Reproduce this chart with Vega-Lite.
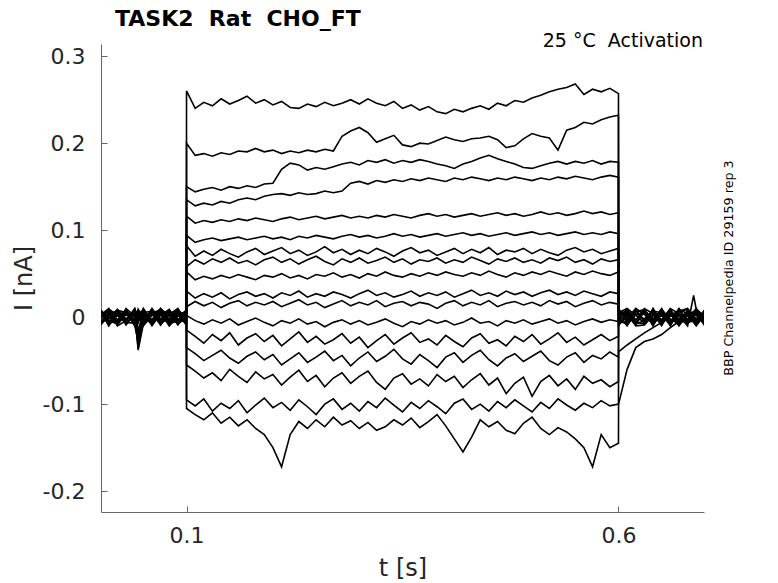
{
"$schema":"https://vega.github.io/schema/vega-lite/v6.json",
"width":603,"height":468,
"autosize":"none",
"padding":{"left":101,"top":44,"right":74,"bottom":71},
"background":"white",
"config":{"view":{"stroke":null},"font":"DejaVu Sans"},
"title":{"text":"TASK2\u00a0\u00a0Rat\u00a0\u00a0CHO_FT","anchor":"start","frame":"group","dx":14,"offset":1,"fontSize":22,"fontWeight":"bold","color":"black","font":"DejaVu Sans"},
"layer":[
{"data":{"values":[
{"s":1,"t":0,"I":0.004},{"s":1,"t":0.01,"I":-0.006},{"s":1,"t":0.02,"I":0.008},{"s":1,"t":0.03,"I":-0.002},{"s":1,"t":0.04,"I":0.006},{"s":1,"t":0.044,"I":-0.004},{"s":1,"t":0.05,"I":0.01},{"s":1,"t":0.06,"I":-0.005},{"s":1,"t":0.07,"I":0.003},{"s":1,"t":0.08,"I":-0.008},{"s":1,"t":0.09,"I":0.007},{"s":1,"t":0.0999,"I":0.002},
{"s":1,"t":0.1,"I":0.26},{"s":1,"t":0.11,"I":0.24},{"s":1,"t":0.12,"I":0.247},{"s":1,"t":0.13,"I":0.243},{"s":1,"t":0.14,"I":0.251},{"s":1,"t":0.15,"I":0.245},{"s":1,"t":0.16,"I":0.249},{"s":1,"t":0.17,"I":0.254},{"s":1,"t":0.18,"I":0.246},{"s":1,"t":0.19,"I":0.25},
{"s":1,"t":0.2,"I":0.244},{"s":1,"t":0.21,"I":0.248},{"s":1,"t":0.22,"I":0.241},{"s":1,"t":0.23,"I":0.24},{"s":1,"t":0.24,"I":0.245},{"s":1,"t":0.25,"I":0.242},{"s":1,"t":0.26,"I":0.247},{"s":1,"t":0.27,"I":0.243},{"s":1,"t":0.28,"I":0.246},{"s":1,"t":0.29,"I":0.25},
{"s":1,"t":0.3,"I":0.245},{"s":1,"t":0.31,"I":0.251},{"s":1,"t":0.32,"I":0.246},{"s":1,"t":0.33,"I":0.243},{"s":1,"t":0.34,"I":0.248},{"s":1,"t":0.35,"I":0.24},{"s":1,"t":0.36,"I":0.244},{"s":1,"t":0.37,"I":0.238},{"s":1,"t":0.38,"I":0.242},{"s":1,"t":0.39,"I":0.236},
{"s":1,"t":0.4,"I":0.234},{"s":1,"t":0.41,"I":0.239},{"s":1,"t":0.42,"I":0.236},{"s":1,"t":0.43,"I":0.24},{"s":1,"t":0.44,"I":0.243},{"s":1,"t":0.45,"I":0.239},{"s":1,"t":0.46,"I":0.246},{"s":1,"t":0.47,"I":0.243},{"s":1,"t":0.48,"I":0.249},{"s":1,"t":0.49,"I":0.247},
{"s":1,"t":0.5,"I":0.252},{"s":1,"t":0.51,"I":0.255},{"s":1,"t":0.52,"I":0.259},{"s":1,"t":0.53,"I":0.262},{"s":1,"t":0.54,"I":0.264},{"s":1,"t":0.55,"I":0.268},{"s":1,"t":0.56,"I":0.256},{"s":1,"t":0.57,"I":0.262},{"s":1,"t":0.58,"I":0.259},{"s":1,"t":0.59,"I":0.263},{"s":1,"t":0.6,"I":0.257},
{"s":1,"t":0.6001,"I":0.006},{"s":1,"t":0.61,"I":-0.004},{"s":1,"t":0.62,"I":0.008},{"s":1,"t":0.63,"I":-0.006},{"s":1,"t":0.64,"I":0.003},{"s":1,"t":0.65,"I":-0.008},{"s":1,"t":0.66,"I":0.007},{"s":1,"t":0.67,"I":-0.002},{"s":1,"t":0.68,"I":0.005},{"s":1,"t":0.69,"I":-0.007},{"s":1,"t":0.7,"I":0.004},

{"s":2,"t":0,"I":-0.007},{"s":2,"t":0.01,"I":0.005},{"s":2,"t":0.02,"I":-0.003},{"s":2,"t":0.03,"I":0.009},{"s":2,"t":0.04,"I":-0.006},{"s":2,"t":0.044,"I":0.002},{"s":2,"t":0.05,"I":-0.009},{"s":2,"t":0.06,"I":0.006},{"s":2,"t":0.07,"I":-0.002},{"s":2,"t":0.08,"I":0.008},{"s":2,"t":0.09,"I":-0.004},{"s":2,"t":0.0999,"I":0.005},
{"s":2,"t":0.1,"I":0.2},{"s":2,"t":0.11,"I":0.186},{"s":2,"t":0.12,"I":0.188},{"s":2,"t":0.13,"I":0.185},{"s":2,"t":0.14,"I":0.189},{"s":2,"t":0.15,"I":0.187},{"s":2,"t":0.16,"I":0.191},{"s":2,"t":0.17,"I":0.19},{"s":2,"t":0.18,"I":0.194},{"s":2,"t":0.19,"I":0.19},
{"s":2,"t":0.2,"I":0.192},{"s":2,"t":0.21,"I":0.188},{"s":2,"t":0.22,"I":0.191},{"s":2,"t":0.23,"I":0.189},{"s":2,"t":0.24,"I":0.192},{"s":2,"t":0.25,"I":0.19},{"s":2,"t":0.26,"I":0.193},{"s":2,"t":0.27,"I":0.191},{"s":2,"t":0.28,"I":0.208},{"s":2,"t":0.29,"I":0.214},
{"s":2,"t":0.3,"I":0.218},{"s":2,"t":0.31,"I":0.212},{"s":2,"t":0.32,"I":0.201},{"s":2,"t":0.33,"I":0.205},{"s":2,"t":0.34,"I":0.209},{"s":2,"t":0.35,"I":0.198},{"s":2,"t":0.36,"I":0.196},{"s":2,"t":0.37,"I":0.2},{"s":2,"t":0.38,"I":0.199},{"s":2,"t":0.39,"I":0.203},
{"s":2,"t":0.4,"I":0.207},{"s":2,"t":0.41,"I":0.204},{"s":2,"t":0.42,"I":0.202},{"s":2,"t":0.43,"I":0.205},{"s":2,"t":0.44,"I":0.206},{"s":2,"t":0.45,"I":0.208},{"s":2,"t":0.46,"I":0.204},{"s":2,"t":0.47,"I":0.195},{"s":2,"t":0.48,"I":0.197},{"s":2,"t":0.49,"I":0.205},
{"s":2,"t":0.5,"I":0.211},{"s":2,"t":0.51,"I":0.208},{"s":2,"t":0.52,"I":0.206},{"s":2,"t":0.53,"I":0.192},{"s":2,"t":0.54,"I":0.215},{"s":2,"t":0.55,"I":0.218},{"s":2,"t":0.56,"I":0.224},{"s":2,"t":0.57,"I":0.222},{"s":2,"t":0.58,"I":0.227},{"s":2,"t":0.59,"I":0.23},{"s":2,"t":0.6,"I":0.232},
{"s":2,"t":0.6001,"I":-0.005},{"s":2,"t":0.61,"I":0.009},{"s":2,"t":0.62,"I":-0.003},{"s":2,"t":0.63,"I":0.005},{"s":2,"t":0.64,"I":-0.009},{"s":2,"t":0.65,"I":0.004},{"s":2,"t":0.66,"I":-0.006},{"s":2,"t":0.67,"I":0.01},{"s":2,"t":0.68,"I":-0.004},{"s":2,"t":0.69,"I":0.006},{"s":2,"t":0.7,"I":-0.002},

{"s":3,"t":0,"I":0.009},{"s":3,"t":0.01,"I":-0.002},{"s":3,"t":0.02,"I":0.005},{"s":3,"t":0.03,"I":-0.008},{"s":3,"t":0.04,"I":0.003},{"s":3,"t":0.044,"I":-0.02},{"s":3,"t":0.05,"I":0.006},{"s":3,"t":0.06,"I":-0.003},{"s":3,"t":0.07,"I":0.01},{"s":3,"t":0.08,"I":-0.006},{"s":3,"t":0.09,"I":0.004},{"s":3,"t":0.0999,"I":-0.007},
{"s":3,"t":0.1,"I":0.15},{"s":3,"t":0.11,"I":0.144},{"s":3,"t":0.12,"I":0.147},{"s":3,"t":0.13,"I":0.149},{"s":3,"t":0.14,"I":0.146},{"s":3,"t":0.15,"I":0.15},{"s":3,"t":0.16,"I":0.148},{"s":3,"t":0.17,"I":0.151},{"s":3,"t":0.18,"I":0.149},{"s":3,"t":0.19,"I":0.153},
{"s":3,"t":0.2,"I":0.154},{"s":3,"t":0.21,"I":0.17},{"s":3,"t":0.22,"I":0.177},{"s":3,"t":0.23,"I":0.175},{"s":3,"t":0.24,"I":0.169},{"s":3,"t":0.25,"I":0.172},{"s":3,"t":0.26,"I":0.17},{"s":3,"t":0.27,"I":0.173},{"s":3,"t":0.28,"I":0.176},{"s":3,"t":0.29,"I":0.178},
{"s":3,"t":0.3,"I":0.175},{"s":3,"t":0.31,"I":0.18},{"s":3,"t":0.32,"I":0.178},{"s":3,"t":0.33,"I":0.181},{"s":3,"t":0.34,"I":0.177},{"s":3,"t":0.35,"I":0.18},{"s":3,"t":0.36,"I":0.178},{"s":3,"t":0.37,"I":0.181},{"s":3,"t":0.38,"I":0.179},{"s":3,"t":0.39,"I":0.176},
{"s":3,"t":0.4,"I":0.174},{"s":3,"t":0.41,"I":0.171},{"s":3,"t":0.42,"I":0.176},{"s":3,"t":0.43,"I":0.179},{"s":3,"t":0.44,"I":0.183},{"s":3,"t":0.45,"I":0.186},{"s":3,"t":0.46,"I":0.182},{"s":3,"t":0.47,"I":0.179},{"s":3,"t":0.48,"I":0.176},{"s":3,"t":0.49,"I":0.172},
{"s":3,"t":0.5,"I":0.171},{"s":3,"t":0.51,"I":0.174},{"s":3,"t":0.52,"I":0.177},{"s":3,"t":0.53,"I":0.179},{"s":3,"t":0.54,"I":0.176},{"s":3,"t":0.55,"I":0.179},{"s":3,"t":0.56,"I":0.177},{"s":3,"t":0.57,"I":0.18},{"s":3,"t":0.58,"I":0.176},{"s":3,"t":0.59,"I":0.179},{"s":3,"t":0.6,"I":0.178},
{"s":3,"t":0.6001,"I":0.01},{"s":3,"t":0.61,"I":-0.007},{"s":3,"t":0.62,"I":0.004},{"s":3,"t":0.63,"I":-0.002},{"s":3,"t":0.64,"I":0.008},{"s":3,"t":0.65,"I":-0.005},{"s":3,"t":0.66,"I":0.009},{"s":3,"t":0.67,"I":-0.007},{"s":3,"t":0.68,"I":0.002},{"s":3,"t":0.69,"I":-0.009},{"s":3,"t":0.7,"I":0.007},

{"s":4,"t":0,"I":-0.003},{"s":4,"t":0.01,"I":0.008},{"s":4,"t":0.02,"I":-0.009},{"s":4,"t":0.03,"I":0.004},{"s":4,"t":0.04,"I":-0.005},{"s":4,"t":0.044,"I":-0.03},{"s":4,"t":0.05,"I":-0.007},{"s":4,"t":0.06,"I":0.009},{"s":4,"t":0.07,"I":-0.004},{"s":4,"t":0.08,"I":0.005},{"s":4,"t":0.09,"I":-0.009},{"s":4,"t":0.0999,"I":0.003},
{"s":4,"t":0.1,"I":0.135},{"s":4,"t":0.11,"I":0.128},{"s":4,"t":0.12,"I":0.131},{"s":4,"t":0.13,"I":0.129},{"s":4,"t":0.14,"I":0.133},{"s":4,"t":0.15,"I":0.131},{"s":4,"t":0.16,"I":0.135},{"s":4,"t":0.17,"I":0.137},{"s":4,"t":0.18,"I":0.135},{"s":4,"t":0.19,"I":0.139},
{"s":4,"t":0.2,"I":0.141},{"s":4,"t":0.21,"I":0.142},{"s":4,"t":0.22,"I":0.14},{"s":4,"t":0.23,"I":0.143},{"s":4,"t":0.24,"I":0.141},{"s":4,"t":0.25,"I":0.142},{"s":4,"t":0.26,"I":0.145},{"s":4,"t":0.27,"I":0.143},{"s":4,"t":0.28,"I":0.145},{"s":4,"t":0.29,"I":0.154},
{"s":4,"t":0.3,"I":0.156},{"s":4,"t":0.31,"I":0.153},{"s":4,"t":0.32,"I":0.157},{"s":4,"t":0.33,"I":0.155},{"s":4,"t":0.34,"I":0.158},{"s":4,"t":0.35,"I":0.156},{"s":4,"t":0.36,"I":0.159},{"s":4,"t":0.37,"I":0.157},{"s":4,"t":0.38,"I":0.16},{"s":4,"t":0.39,"I":0.158},
{"s":4,"t":0.4,"I":0.156},{"s":4,"t":0.41,"I":0.16},{"s":4,"t":0.42,"I":0.158},{"s":4,"t":0.43,"I":0.161},{"s":4,"t":0.44,"I":0.159},{"s":4,"t":0.45,"I":0.157},{"s":4,"t":0.46,"I":0.16},{"s":4,"t":0.47,"I":0.158},{"s":4,"t":0.48,"I":0.161},{"s":4,"t":0.49,"I":0.159},
{"s":4,"t":0.5,"I":0.157},{"s":4,"t":0.51,"I":0.16},{"s":4,"t":0.52,"I":0.158},{"s":4,"t":0.53,"I":0.161},{"s":4,"t":0.54,"I":0.159},{"s":4,"t":0.55,"I":0.162},{"s":4,"t":0.56,"I":0.16},{"s":4,"t":0.57,"I":0.158},{"s":4,"t":0.58,"I":0.161},{"s":4,"t":0.59,"I":0.163},{"s":4,"t":0.6,"I":0.161},
{"s":4,"t":0.6001,"I":-0.008},{"s":4,"t":0.61,"I":0.003},{"s":4,"t":0.62,"I":-0.009},{"s":4,"t":0.63,"I":0.007},{"s":4,"t":0.64,"I":-0.003},{"s":4,"t":0.65,"I":0.009},{"s":4,"t":0.66,"I":-0.004},{"s":4,"t":0.67,"I":0.003},{"s":4,"t":0.68,"I":-0.008},{"s":4,"t":0.69,"I":0.005},{"s":4,"t":0.7,"I":-0.006},

{"s":5,"t":0,"I":0.006},{"s":5,"t":0.01,"I":-0.009},{"s":5,"t":0.02,"I":0.002},{"s":5,"t":0.03,"I":0.007},{"s":5,"t":0.04,"I":-0.008},{"s":5,"t":0.044,"I":0.004},{"s":5,"t":0.05,"I":0.008},{"s":5,"t":0.06,"I":-0.007},{"s":5,"t":0.07,"I":0.006},{"s":5,"t":0.08,"I":-0.002},{"s":5,"t":0.09,"I":0.009},{"s":5,"t":0.0999,"I":-0.005},
{"s":5,"t":0.1,"I":0.116},{"s":5,"t":0.11,"I":0.108},{"s":5,"t":0.12,"I":0.111},{"s":5,"t":0.13,"I":0.109},{"s":5,"t":0.14,"I":0.112},{"s":5,"t":0.15,"I":0.11},{"s":5,"t":0.16,"I":0.113},{"s":5,"t":0.17,"I":0.111},{"s":5,"t":0.18,"I":0.114},{"s":5,"t":0.19,"I":0.112},
{"s":5,"t":0.2,"I":0.11},{"s":5,"t":0.21,"I":0.113},{"s":5,"t":0.22,"I":0.115},{"s":5,"t":0.23,"I":0.112},{"s":5,"t":0.24,"I":0.114},{"s":5,"t":0.25,"I":0.116},{"s":5,"t":0.26,"I":0.113},{"s":5,"t":0.27,"I":0.115},{"s":5,"t":0.28,"I":0.117},{"s":5,"t":0.29,"I":0.114},
{"s":5,"t":0.3,"I":0.116},{"s":5,"t":0.31,"I":0.114},{"s":5,"t":0.32,"I":0.117},{"s":5,"t":0.33,"I":0.115},{"s":5,"t":0.34,"I":0.118},{"s":5,"t":0.35,"I":0.116},{"s":5,"t":0.36,"I":0.114},{"s":5,"t":0.37,"I":0.117},{"s":5,"t":0.38,"I":0.119},{"s":5,"t":0.39,"I":0.116},
{"s":5,"t":0.4,"I":0.118},{"s":5,"t":0.41,"I":0.115},{"s":5,"t":0.42,"I":0.117},{"s":5,"t":0.43,"I":0.119},{"s":5,"t":0.44,"I":0.116},{"s":5,"t":0.45,"I":0.118},{"s":5,"t":0.46,"I":0.12},{"s":5,"t":0.47,"I":0.117},{"s":5,"t":0.48,"I":0.119},{"s":5,"t":0.49,"I":0.116},
{"s":5,"t":0.5,"I":0.118},{"s":5,"t":0.51,"I":0.121},{"s":5,"t":0.52,"I":0.118},{"s":5,"t":0.53,"I":0.12},{"s":5,"t":0.54,"I":0.117},{"s":5,"t":0.55,"I":0.119},{"s":5,"t":0.56,"I":0.122},{"s":5,"t":0.57,"I":0.119},{"s":5,"t":0.58,"I":0.121},{"s":5,"t":0.59,"I":0.118},{"s":5,"t":0.6,"I":0.12},
{"s":5,"t":0.6001,"I":0.004},{"s":5,"t":0.61,"I":-0.01},{"s":5,"t":0.62,"I":0.006},{"s":5,"t":0.63,"I":0.009},{"s":5,"t":0.64,"I":-0.006},{"s":5,"t":0.65,"I":0.002},{"s":5,"t":0.66,"I":-0.009},{"s":5,"t":0.67,"I":0.006},{"s":5,"t":0.68,"I":0.009},{"s":5,"t":0.69,"I":-0.003},{"s":5,"t":0.7,"I":0.008},

{"s":6,"t":0,"I":-0.01},{"s":6,"t":0.01,"I":0.003},{"s":6,"t":0.02,"I":0.007},{"s":6,"t":0.03,"I":-0.005},{"s":6,"t":0.04,"I":0.009},{"s":6,"t":0.044,"I":-0.036},{"s":6,"t":0.05,"I":-0.004},{"s":6,"t":0.06,"I":0.005},{"s":6,"t":0.07,"I":-0.009},{"s":6,"t":0.08,"I":0.007},{"s":6,"t":0.09,"I":-0.003},{"s":6,"t":0.0999,"I":0.008},
{"s":6,"t":0.1,"I":0.094},{"s":6,"t":0.11,"I":0.086},{"s":6,"t":0.12,"I":0.089},{"s":6,"t":0.13,"I":0.091},{"s":6,"t":0.14,"I":0.088},{"s":6,"t":0.15,"I":0.09},{"s":6,"t":0.16,"I":0.092},{"s":6,"t":0.17,"I":0.089},{"s":6,"t":0.18,"I":0.091},{"s":6,"t":0.19,"I":0.093},
{"s":6,"t":0.2,"I":0.09},{"s":6,"t":0.21,"I":0.092},{"s":6,"t":0.22,"I":0.089},{"s":6,"t":0.23,"I":0.093},{"s":6,"t":0.24,"I":0.091},{"s":6,"t":0.25,"I":0.094},{"s":6,"t":0.26,"I":0.092},{"s":6,"t":0.27,"I":0.09},{"s":6,"t":0.28,"I":0.093},{"s":6,"t":0.29,"I":0.095},
{"s":6,"t":0.3,"I":0.092},{"s":6,"t":0.31,"I":0.094},{"s":6,"t":0.32,"I":0.091},{"s":6,"t":0.33,"I":0.093},{"s":6,"t":0.34,"I":0.096},{"s":6,"t":0.35,"I":0.093},{"s":6,"t":0.36,"I":0.095},{"s":6,"t":0.37,"I":0.092},{"s":6,"t":0.38,"I":0.094},{"s":6,"t":0.39,"I":0.096},
{"s":6,"t":0.4,"I":0.093},{"s":6,"t":0.41,"I":0.095},{"s":6,"t":0.42,"I":0.097},{"s":6,"t":0.43,"I":0.094},{"s":6,"t":0.44,"I":0.096},{"s":6,"t":0.45,"I":0.093},{"s":6,"t":0.46,"I":0.095},{"s":6,"t":0.47,"I":0.097},{"s":6,"t":0.48,"I":0.094},{"s":6,"t":0.49,"I":0.096},
{"s":6,"t":0.5,"I":0.098},{"s":6,"t":0.51,"I":0.095},{"s":6,"t":0.52,"I":0.097},{"s":6,"t":0.53,"I":0.094},{"s":6,"t":0.54,"I":0.096},{"s":6,"t":0.55,"I":0.098},{"s":6,"t":0.56,"I":0.095},{"s":6,"t":0.57,"I":0.097},{"s":6,"t":0.58,"I":0.095},{"s":6,"t":0.59,"I":0.098},{"s":6,"t":0.6,"I":0.096},
{"s":6,"t":0.6001,"I":-0.003},{"s":6,"t":0.61,"I":0.006},{"s":6,"t":0.62,"I":-0.006},{"s":6,"t":0.63,"I":-0.008},{"s":6,"t":0.64,"I":0.01},{"s":6,"t":0.65,"I":-0.007},{"s":6,"t":0.66,"I":0.004},{"s":6,"t":0.67,"I":-0.01},{"s":6,"t":0.68,"I":0.003},{"s":6,"t":0.69,"I":0.008},{"s":6,"t":0.7,"I":-0.009},

{"s":7,"t":0,"I":0.002},{"s":7,"t":0.01,"I":0.01},{"s":7,"t":0.02,"I":-0.006},{"s":7,"t":0.03,"I":0.003},{"s":7,"t":0.04,"I":-0.002},{"s":7,"t":0.044,"I":0.006},{"s":7,"t":0.05,"I":-0.01},{"s":7,"t":0.06,"I":0.002},{"s":7,"t":0.07,"I":0.008},{"s":7,"t":0.08,"I":-0.005},{"s":7,"t":0.09,"I":0.003},{"s":7,"t":0.0999,"I":-0.009},
{"s":7,"t":0.1,"I":0.082},{"s":7,"t":0.11,"I":0.07},{"s":7,"t":0.12,"I":0.076},{"s":7,"t":0.13,"I":0.071},{"s":7,"t":0.14,"I":0.078},{"s":7,"t":0.15,"I":0.073},{"s":7,"t":0.16,"I":0.069},{"s":7,"t":0.17,"I":0.075},{"s":7,"t":0.18,"I":0.079},{"s":7,"t":0.19,"I":0.072},
{"s":7,"t":0.2,"I":0.076},{"s":7,"t":0.21,"I":0.08},{"s":7,"t":0.22,"I":0.073},{"s":7,"t":0.23,"I":0.077},{"s":7,"t":0.24,"I":0.071},{"s":7,"t":0.25,"I":0.075},{"s":7,"t":0.26,"I":0.081},{"s":7,"t":0.27,"I":0.074},{"s":7,"t":0.28,"I":0.078},{"s":7,"t":0.29,"I":0.072},
{"s":7,"t":0.3,"I":0.077},{"s":7,"t":0.31,"I":0.073},{"s":7,"t":0.32,"I":0.079},{"s":7,"t":0.33,"I":0.075},{"s":7,"t":0.34,"I":0.07},{"s":7,"t":0.35,"I":0.076},{"s":7,"t":0.36,"I":0.08},{"s":7,"t":0.37,"I":0.074},{"s":7,"t":0.38,"I":0.077},{"s":7,"t":0.39,"I":0.071},
{"s":7,"t":0.4,"I":0.075},{"s":7,"t":0.41,"I":0.079},{"s":7,"t":0.42,"I":0.073},{"s":7,"t":0.43,"I":0.078},{"s":7,"t":0.44,"I":0.074},{"s":7,"t":0.45,"I":0.08},{"s":7,"t":0.46,"I":0.072},{"s":7,"t":0.47,"I":0.077},{"s":7,"t":0.48,"I":0.075},{"s":7,"t":0.49,"I":0.079},
{"s":7,"t":0.5,"I":0.073},{"s":7,"t":0.51,"I":0.078},{"s":7,"t":0.52,"I":0.074},{"s":7,"t":0.53,"I":0.071},{"s":7,"t":0.54,"I":0.077},{"s":7,"t":0.55,"I":0.08},{"s":7,"t":0.56,"I":0.075},{"s":7,"t":0.57,"I":0.078},{"s":7,"t":0.58,"I":0.073},{"s":7,"t":0.59,"I":0.076},{"s":7,"t":0.6,"I":0.079},
{"s":7,"t":0.6001,"I":0.008},{"s":7,"t":0.61,"I":-0.002},{"s":7,"t":0.62,"I":0.01},{"s":7,"t":0.63,"I":0.003},{"s":7,"t":0.64,"I":-0.007},{"s":7,"t":0.65,"I":0.006},{"s":7,"t":0.66,"I":0.001},{"s":7,"t":0.67,"I":0.008},{"s":7,"t":0.68,"I":-0.006},{"s":7,"t":0.69,"I":-0.004},{"s":7,"t":0.7,"I":0.005},

{"s":8,"t":0,"I":-0.005},{"s":8,"t":0.01,"I":-0.002},{"s":8,"t":0.02,"I":0.009},{"s":8,"t":0.03,"I":-0.009},{"s":8,"t":0.04,"I":0.005},{"s":8,"t":0.044,"I":-0.025},{"s":8,"t":0.05,"I":0.003},{"s":8,"t":0.06,"I":-0.008},{"s":8,"t":0.07,"I":0.002},{"s":8,"t":0.08,"I":0.009},{"s":8,"t":0.09,"I":-0.007},{"s":8,"t":0.0999,"I":0.006},
{"s":8,"t":0.1,"I":0.058},{"s":8,"t":0.11,"I":0.066},{"s":8,"t":0.12,"I":0.061},{"s":8,"t":0.13,"I":0.067},{"s":8,"t":0.14,"I":0.063},{"s":8,"t":0.15,"I":0.068},{"s":8,"t":0.16,"I":0.062},{"s":8,"t":0.17,"I":0.065},{"s":8,"t":0.18,"I":0.06},{"s":8,"t":0.19,"I":0.066},
{"s":8,"t":0.2,"I":0.069},{"s":8,"t":0.21,"I":0.063},{"s":8,"t":0.22,"I":0.067},{"s":8,"t":0.23,"I":0.061},{"s":8,"t":0.24,"I":0.066},{"s":8,"t":0.25,"I":0.07},{"s":8,"t":0.26,"I":0.064},{"s":8,"t":0.27,"I":0.06},{"s":8,"t":0.28,"I":0.067},{"s":8,"t":0.29,"I":0.063},
{"s":8,"t":0.3,"I":0.068},{"s":8,"t":0.31,"I":0.062},{"s":8,"t":0.32,"I":0.065},{"s":8,"t":0.33,"I":0.069},{"s":8,"t":0.34,"I":0.063},{"s":8,"t":0.35,"I":0.067},{"s":8,"t":0.36,"I":0.061},{"s":8,"t":0.37,"I":0.066},{"s":8,"t":0.38,"I":0.064},{"s":8,"t":0.39,"I":0.068},
{"s":8,"t":0.4,"I":0.062},{"s":8,"t":0.41,"I":0.066},{"s":8,"t":0.42,"I":0.063},{"s":8,"t":0.43,"I":0.069},{"s":8,"t":0.44,"I":0.065},{"s":8,"t":0.45,"I":0.061},{"s":8,"t":0.46,"I":0.067},{"s":8,"t":0.47,"I":0.064},{"s":8,"t":0.48,"I":0.068},{"s":8,"t":0.49,"I":0.063},
{"s":8,"t":0.5,"I":0.066},{"s":8,"t":0.51,"I":0.062},{"s":8,"t":0.52,"I":0.068},{"s":8,"t":0.53,"I":0.065},{"s":8,"t":0.54,"I":0.069},{"s":8,"t":0.55,"I":0.063},{"s":8,"t":0.56,"I":0.066},{"s":8,"t":0.57,"I":0.061},{"s":8,"t":0.58,"I":0.067},{"s":8,"t":0.59,"I":0.064},{"s":8,"t":0.6,"I":0.066},
{"s":8,"t":0.6001,"I":-0.01},{"s":8,"t":0.61,"I":0.005},{"s":8,"t":0.62,"I":-0.004},{"s":8,"t":0.63,"I":0.01},{"s":8,"t":0.64,"I":0.004},{"s":8,"t":0.65,"I":-0.01},{"s":8,"t":0.66,"I":0.008},{"s":8,"t":0.67,"I":-0.005},{"s":8,"t":0.68,"I":0.007},{"s":8,"t":0.69,"I":0.002},{"s":8,"t":0.7,"I":-0.008},

{"s":9,"t":0,"I":0.008},{"s":9,"t":0.01,"I":-0.007},{"s":9,"t":0.02,"I":-0.004},{"s":9,"t":0.03,"I":0.006},{"s":9,"t":0.04,"I":-0.01},{"s":9,"t":0.044,"I":0.001},{"s":9,"t":0.05,"I":0.005},{"s":9,"t":0.06,"I":0.007},{"s":9,"t":0.07,"I":-0.006},{"s":9,"t":0.08,"I":-0.003},{"s":9,"t":0.09,"I":0.006},{"s":9,"t":0.0999,"I":-0.002},
{"s":9,"t":0.1,"I":0.052},{"s":9,"t":0.11,"I":0.043},{"s":9,"t":0.12,"I":0.047},{"s":9,"t":0.13,"I":0.044},{"s":9,"t":0.14,"I":0.048},{"s":9,"t":0.15,"I":0.045},{"s":9,"t":0.16,"I":0.049},{"s":9,"t":0.17,"I":0.046},{"s":9,"t":0.18,"I":0.043},{"s":9,"t":0.19,"I":0.048},
{"s":9,"t":0.2,"I":0.046},{"s":9,"t":0.21,"I":0.05},{"s":9,"t":0.22,"I":0.045},{"s":9,"t":0.23,"I":0.048},{"s":9,"t":0.24,"I":0.044},{"s":9,"t":0.25,"I":0.049},{"s":9,"t":0.26,"I":0.047},{"s":9,"t":0.27,"I":0.051},{"s":9,"t":0.28,"I":0.046},{"s":9,"t":0.29,"I":0.049},
{"s":9,"t":0.3,"I":0.045},{"s":9,"t":0.31,"I":0.05},{"s":9,"t":0.32,"I":0.047},{"s":9,"t":0.33,"I":0.052},{"s":9,"t":0.34,"I":0.048},{"s":9,"t":0.35,"I":0.046},{"s":9,"t":0.36,"I":0.05},{"s":9,"t":0.37,"I":0.047},{"s":9,"t":0.38,"I":0.051},{"s":9,"t":0.39,"I":0.048},
{"s":9,"t":0.4,"I":0.052},{"s":9,"t":0.41,"I":0.049},{"s":9,"t":0.42,"I":0.047},{"s":9,"t":0.43,"I":0.051},{"s":9,"t":0.44,"I":0.048},{"s":9,"t":0.45,"I":0.053},{"s":9,"t":0.46,"I":0.049},{"s":9,"t":0.47,"I":0.046},{"s":9,"t":0.48,"I":0.051},{"s":9,"t":0.49,"I":0.048},
{"s":9,"t":0.5,"I":0.052},{"s":9,"t":0.51,"I":0.049},{"s":9,"t":0.52,"I":0.053},{"s":9,"t":0.53,"I":0.05},{"s":9,"t":0.54,"I":0.047},{"s":9,"t":0.55,"I":0.052},{"s":9,"t":0.56,"I":0.049},{"s":9,"t":0.57,"I":0.053},{"s":9,"t":0.58,"I":0.05},{"s":9,"t":0.59,"I":0.048},{"s":9,"t":0.6,"I":0.052},
{"s":9,"t":0.6001,"I":0.002},{"s":9,"t":0.61,"I":0.008},{"s":9,"t":0.62,"I":-0.008},{"s":9,"t":0.63,"I":-0.004},{"s":9,"t":0.64,"I":0.007},{"s":9,"t":0.65,"I":0.005},{"s":9,"t":0.66,"I":-0.007},{"s":9,"t":0.67,"I":0.002},{"s":9,"t":0.68,"I":-0.01},{"s":9,"t":0.687,"I":0.025},{"s":9,"t":0.69,"I":0.009},{"s":9,"t":0.7,"I":0.001},

{"s":10,"t":0,"I":-0.008},{"s":10,"t":0.01,"I":0.006},{"s":10,"t":0.02,"I":0.004},{"s":10,"t":0.03,"I":-0.003},{"s":10,"t":0.04,"I":0.008},{"s":10,"t":0.044,"I":-0.038},{"s":10,"t":0.05,"I":-0.008},{"s":10,"t":0.06,"I":0.004},{"s":10,"t":0.07,"I":0.009},{"s":10,"t":0.08,"I":-0.009},{"s":10,"t":0.09,"I":0.002},{"s":10,"t":0.0999,"I":0.007},
{"s":10,"t":0.1,"I":0.03},{"s":10,"t":0.11,"I":0.022},{"s":10,"t":0.12,"I":0.027},{"s":10,"t":0.13,"I":0.023},{"s":10,"t":0.14,"I":0.028},{"s":10,"t":0.15,"I":0.021},{"s":10,"t":0.16,"I":0.026},{"s":10,"t":0.17,"I":0.029},{"s":10,"t":0.18,"I":0.024},{"s":10,"t":0.19,"I":0.027},
{"s":10,"t":0.2,"I":0.022},{"s":10,"t":0.21,"I":0.028},{"s":10,"t":0.22,"I":0.025},{"s":10,"t":0.23,"I":0.03},{"s":10,"t":0.24,"I":0.023},{"s":10,"t":0.25,"I":0.027},{"s":10,"t":0.26,"I":0.024},{"s":10,"t":0.27,"I":0.029},{"s":10,"t":0.28,"I":0.026},{"s":10,"t":0.29,"I":0.022},
{"s":10,"t":0.3,"I":0.027},{"s":10,"t":0.31,"I":0.031},{"s":10,"t":0.32,"I":0.025},{"s":10,"t":0.33,"I":0.028},{"s":10,"t":0.34,"I":0.023},{"s":10,"t":0.35,"I":0.026},{"s":10,"t":0.36,"I":0.03},{"s":10,"t":0.37,"I":0.024},{"s":10,"t":0.38,"I":0.028},{"s":10,"t":0.39,"I":0.025},
{"s":10,"t":0.4,"I":0.029},{"s":10,"t":0.41,"I":0.023},{"s":10,"t":0.42,"I":0.027},{"s":10,"t":0.43,"I":0.031},{"s":10,"t":0.44,"I":0.025},{"s":10,"t":0.45,"I":0.028},{"s":10,"t":0.46,"I":0.024},{"s":10,"t":0.47,"I":0.03},{"s":10,"t":0.48,"I":0.026},{"s":10,"t":0.49,"I":0.029},
{"s":10,"t":0.5,"I":0.024},{"s":10,"t":0.51,"I":0.028},{"s":10,"t":0.52,"I":0.031},{"s":10,"t":0.53,"I":0.026},{"s":10,"t":0.54,"I":0.029},{"s":10,"t":0.55,"I":0.025},{"s":10,"t":0.56,"I":0.03},{"s":10,"t":0.57,"I":0.027},{"s":10,"t":0.58,"I":0.024},{"s":10,"t":0.59,"I":0.029},{"s":10,"t":0.6,"I":0.027},
{"s":10,"t":0.6001,"I":-0.006},{"s":10,"t":0.61,"I":-0.006},{"s":10,"t":0.62,"I":0.007},{"s":10,"t":0.63,"I":0.006},{"s":10,"t":0.64,"I":-0.01},{"s":10,"t":0.65,"I":0.008},{"s":10,"t":0.66,"I":-0.002},{"s":10,"t":0.67,"I":-0.008},{"s":10,"t":0.68,"I":0.006},{"s":10,"t":0.69,"I":-0.006},{"s":10,"t":0.7,"I":0.009},

{"s":11,"t":0,"I":0.005},{"s":11,"t":0.01,"I":-0.004},{"s":11,"t":0.02,"I":-0.008},{"s":11,"t":0.03,"I":0.01},{"s":11,"t":0.04,"I":0.001},{"s":11,"t":0.044,"I":-0.007},{"s":11,"t":0.05,"I":0.009},{"s":11,"t":0.06,"I":-0.01},{"s":11,"t":0.07,"I":0.004},{"s":11,"t":0.08,"I":0.006},{"s":11,"t":0.09,"I":-0.008},{"s":11,"t":0.0999,"I":0.001},
{"s":11,"t":0.1,"I":0.012},{"s":11,"t":0.11,"I":0.018},{"s":11,"t":0.12,"I":0.013},{"s":11,"t":0.13,"I":0.017},{"s":11,"t":0.14,"I":0.011},{"s":11,"t":0.15,"I":0.016},{"s":11,"t":0.16,"I":0.019},{"s":11,"t":0.17,"I":0.013},{"s":11,"t":0.18,"I":0.017},{"s":11,"t":0.19,"I":0.014},
{"s":11,"t":0.2,"I":0.018},{"s":11,"t":0.21,"I":0.012},{"s":11,"t":0.22,"I":0.016},{"s":11,"t":0.23,"I":0.02},{"s":11,"t":0.24,"I":0.014},{"s":11,"t":0.25,"I":0.017},{"s":11,"t":0.26,"I":0.011},{"s":11,"t":0.27,"I":0.015},{"s":11,"t":0.28,"I":0.019},{"s":11,"t":0.29,"I":0.013},
{"s":11,"t":0.3,"I":0.017},{"s":11,"t":0.31,"I":0.014},{"s":11,"t":0.32,"I":0.019},{"s":11,"t":0.33,"I":0.012},{"s":11,"t":0.34,"I":0.016},{"s":11,"t":0.35,"I":0.018},{"s":11,"t":0.36,"I":0.013},{"s":11,"t":0.37,"I":0.017},{"s":11,"t":0.38,"I":0.015},{"s":11,"t":0.39,"I":0.01},
{"s":11,"t":0.4,"I":0.016},{"s":11,"t":0.41,"I":0.019},{"s":11,"t":0.42,"I":0.013},{"s":11,"t":0.43,"I":0.017},{"s":11,"t":0.44,"I":0.014},{"s":11,"t":0.45,"I":0.019},{"s":11,"t":0.46,"I":0.012},{"s":11,"t":0.47,"I":0.016},{"s":11,"t":0.48,"I":0.018},{"s":11,"t":0.49,"I":0.014},
{"s":11,"t":0.5,"I":0.017},{"s":11,"t":0.51,"I":0.013},{"s":11,"t":0.52,"I":0.019},{"s":11,"t":0.53,"I":0.015},{"s":11,"t":0.54,"I":0.018},{"s":11,"t":0.55,"I":0.012},{"s":11,"t":0.56,"I":0.016},{"s":11,"t":0.57,"I":0.019},{"s":11,"t":0.58,"I":0.014},{"s":11,"t":0.59,"I":0.017},{"s":11,"t":0.6,"I":0.015},
{"s":11,"t":0.6001,"I":0.007},{"s":11,"t":0.61,"I":0.004},{"s":11,"t":0.62,"I":-0.01},{"s":11,"t":0.63,"I":-0.009},{"s":11,"t":0.64,"I":0.002},{"s":11,"t":0.65,"I":-0.003},{"s":11,"t":0.66,"I":0.01},{"s":11,"t":0.67,"I":0.004},{"s":11,"t":0.68,"I":-0.002},{"s":11,"t":0.69,"I":0.007},{"s":11,"t":0.7,"I":-0.005},

{"s":12,"t":0,"I":-0.002},{"s":12,"t":0.01,"I":0.009},{"s":12,"t":0.02,"I":0.003},{"s":12,"t":0.03,"I":-0.006},{"s":12,"t":0.04,"I":-0.007},{"s":12,"t":0.044,"I":0.009},{"s":12,"t":0.05,"I":-0.002},{"s":12,"t":0.06,"I":0.008},{"s":12,"t":0.07,"I":-0.009},{"s":12,"t":0.08,"I":0.003},{"s":12,"t":0.09,"I":0.01},{"s":12,"t":0.0999,"I":-0.006},
{"s":12,"t":0.1,"I":0.002},{"s":12,"t":0.11,"I":-0.004},{"s":12,"t":0.12,"I":-0.008},{"s":12,"t":0.13,"I":-0.003},{"s":12,"t":0.14,"I":-0.007},{"s":12,"t":0.15,"I":-0.002},{"s":12,"t":0.16,"I":-0.009},{"s":12,"t":0.17,"I":-0.005},{"s":12,"t":0.18,"I":-0.001},{"s":12,"t":0.19,"I":-0.006},
{"s":12,"t":0.2,"I":-0.01},{"s":12,"t":0.21,"I":-0.004},{"s":12,"t":0.22,"I":-0.007},{"s":12,"t":0.23,"I":-0.002},{"s":12,"t":0.24,"I":-0.008},{"s":12,"t":0.25,"I":-0.005},{"s":12,"t":0.26,"I":-0.011},{"s":12,"t":0.27,"I":-0.006},{"s":12,"t":0.28,"I":-0.003},{"s":12,"t":0.29,"I":-0.008},
{"s":12,"t":0.3,"I":-0.004},{"s":12,"t":0.31,"I":-0.009},{"s":12,"t":0.32,"I":-0.006},{"s":12,"t":0.33,"I":-0.002},{"s":12,"t":0.34,"I":-0.007},{"s":12,"t":0.35,"I":-0.011},{"s":12,"t":0.36,"I":-0.005},{"s":12,"t":0.37,"I":-0.008},{"s":12,"t":0.38,"I":-0.003},{"s":12,"t":0.39,"I":-0.007},
{"s":12,"t":0.4,"I":-0.004},{"s":12,"t":0.41,"I":-0.009},{"s":12,"t":0.42,"I":-0.006},{"s":12,"t":0.43,"I":-0.001},{"s":12,"t":0.44,"I":-0.007},{"s":12,"t":0.45,"I":-0.005},{"s":12,"t":0.46,"I":-0.01},{"s":12,"t":0.47,"I":-0.004},{"s":12,"t":0.48,"I":-0.007},{"s":12,"t":0.49,"I":-0.003},
{"s":12,"t":0.5,"I":-0.008},{"s":12,"t":0.51,"I":-0.005},{"s":12,"t":0.52,"I":-0.002},{"s":12,"t":0.53,"I":-0.007},{"s":12,"t":0.54,"I":-0.004},{"s":12,"t":0.55,"I":-0.009},{"s":12,"t":0.56,"I":-0.005},{"s":12,"t":0.57,"I":-0.002},{"s":12,"t":0.58,"I":-0.006},{"s":12,"t":0.59,"I":-0.003},{"s":12,"t":0.6,"I":-0.005},
{"s":12,"t":0.6001,"I":-0.002},{"s":12,"t":0.61,"I":-0.009},{"s":12,"t":0.62,"I":0.003},{"s":12,"t":0.63,"I":0.004},{"s":12,"t":0.64,"I":-0.005},{"s":12,"t":0.65,"I":0.01},{"s":12,"t":0.66,"I":-0.008},{"s":12,"t":0.67,"I":0.009},{"s":12,"t":0.68,"I":0.004},{"s":12,"t":0.69,"I":-0.01},{"s":12,"t":0.7,"I":0.003},

{"s":13,"t":0,"I":0.007},{"s":13,"t":0.01,"I":-0.01},{"s":13,"t":0.02,"I":0.006},{"s":13,"t":0.03,"I":0.002},{"s":13,"t":0.04,"I":0.007},{"s":13,"t":0.044,"I":-0.015},{"s":13,"t":0.05,"I":0.004},{"s":13,"t":0.06,"I":-0.006},{"s":13,"t":0.07,"I":0.007},{"s":13,"t":0.08,"I":-0.007},{"s":13,"t":0.09,"I":-0.005},{"s":13,"t":0.0999,"I":0.009},
{"s":13,"t":0.1,"I":-0.015},{"s":13,"t":0.11,"I":-0.022},{"s":13,"t":0.12,"I":-0.03},{"s":13,"t":0.13,"I":-0.02},{"s":13,"t":0.14,"I":-0.027},{"s":13,"t":0.15,"I":-0.018},{"s":13,"t":0.16,"I":-0.032},{"s":13,"t":0.17,"I":-0.024},{"s":13,"t":0.18,"I":-0.019},{"s":13,"t":0.19,"I":-0.028},
{"s":13,"t":0.2,"I":-0.021},{"s":13,"t":0.21,"I":-0.033},{"s":13,"t":0.22,"I":-0.025},{"s":13,"t":0.23,"I":-0.017},{"s":13,"t":0.24,"I":-0.029},{"s":13,"t":0.25,"I":-0.022},{"s":13,"t":0.26,"I":-0.031},{"s":13,"t":0.27,"I":-0.026},{"s":13,"t":0.28,"I":-0.019},{"s":13,"t":0.29,"I":-0.03},
{"s":13,"t":0.3,"I":-0.023},{"s":13,"t":0.31,"I":-0.035},{"s":13,"t":0.32,"I":-0.027},{"s":13,"t":0.33,"I":-0.02},{"s":13,"t":0.34,"I":-0.031},{"s":13,"t":0.35,"I":-0.024},{"s":13,"t":0.36,"I":-0.018},{"s":13,"t":0.37,"I":-0.029},{"s":13,"t":0.38,"I":-0.025},{"s":13,"t":0.39,"I":-0.032},
{"s":13,"t":0.4,"I":-0.021},{"s":13,"t":0.41,"I":-0.028},{"s":13,"t":0.42,"I":-0.034},{"s":13,"t":0.43,"I":-0.024},{"s":13,"t":0.44,"I":-0.019},{"s":13,"t":0.45,"I":-0.03},{"s":13,"t":0.46,"I":-0.026},{"s":13,"t":0.47,"I":-0.033},{"s":13,"t":0.48,"I":-0.022},{"s":13,"t":0.49,"I":-0.028},
{"s":13,"t":0.5,"I":-0.02},{"s":13,"t":0.51,"I":-0.031},{"s":13,"t":0.52,"I":-0.025},{"s":13,"t":0.53,"I":-0.018},{"s":13,"t":0.54,"I":-0.029},{"s":13,"t":0.55,"I":-0.023},{"s":13,"t":0.56,"I":-0.032},{"s":13,"t":0.57,"I":-0.026},{"s":13,"t":0.58,"I":-0.02},{"s":13,"t":0.59,"I":-0.027},{"s":13,"t":0.6,"I":-0.022},
{"s":13,"t":0.6001,"I":0.005},{"s":13,"t":0.61,"I":0.01},{"s":13,"t":0.62,"I":0.002},{"s":13,"t":0.63,"I":-0.007},{"s":13,"t":0.64,"I":0.009},{"s":13,"t":0.65,"I":-0.004},{"s":13,"t":0.66,"I":0.006},{"s":13,"t":0.67,"I":-0.003},{"s":13,"t":0.68,"I":-0.007},{"s":13,"t":0.69,"I":0.004},{"s":13,"t":0.7,"I":-0.01},

{"s":14,"t":0,"I":-0.006},{"s":14,"t":0.01,"I":0.004},{"s":14,"t":0.02,"I":-0.005},{"s":14,"t":0.03,"I":0.008},{"s":14,"t":0.04,"I":-0.004},{"s":14,"t":0.044,"I":0.005},{"s":14,"t":0.05,"I":-0.006},{"s":14,"t":0.06,"I":0.01},{"s":14,"t":0.07,"I":-0.003},{"s":14,"t":0.08,"I":0.004},{"s":14,"t":0.09,"I":0.008},{"s":14,"t":0.0999,"I":-0.004},
{"s":14,"t":0.1,"I":-0.035},{"s":14,"t":0.11,"I":-0.042},{"s":14,"t":0.12,"I":-0.05},{"s":14,"t":0.13,"I":-0.044},{"s":14,"t":0.14,"I":-0.038},{"s":14,"t":0.15,"I":-0.047},{"s":14,"t":0.16,"I":-0.053},{"s":14,"t":0.17,"I":-0.045},{"s":14,"t":0.18,"I":-0.04},{"s":14,"t":0.19,"I":-0.049},
{"s":14,"t":0.2,"I":-0.043},{"s":14,"t":0.21,"I":-0.055},{"s":14,"t":0.22,"I":-0.048},{"s":14,"t":0.23,"I":-0.041},{"s":14,"t":0.24,"I":-0.052},{"s":14,"t":0.25,"I":-0.046},{"s":14,"t":0.26,"I":-0.039},{"s":14,"t":0.27,"I":-0.05},{"s":14,"t":0.28,"I":-0.044},{"s":14,"t":0.29,"I":-0.056},
{"s":14,"t":0.3,"I":-0.047},{"s":14,"t":0.31,"I":-0.04},{"s":14,"t":0.32,"I":-0.051},{"s":14,"t":0.33,"I":-0.045},{"s":14,"t":0.34,"I":-0.037},{"s":14,"t":0.35,"I":-0.048},{"s":14,"t":0.36,"I":-0.054},{"s":14,"t":0.37,"I":-0.043},{"s":14,"t":0.38,"I":-0.05},{"s":14,"t":0.39,"I":-0.058},
{"s":14,"t":0.4,"I":-0.046},{"s":14,"t":0.41,"I":-0.041},{"s":14,"t":0.42,"I":-0.052},{"s":14,"t":0.43,"I":-0.044},{"s":14,"t":0.44,"I":-0.038},{"s":14,"t":0.45,"I":-0.049},{"s":14,"t":0.46,"I":-0.056},{"s":14,"t":0.47,"I":-0.047},{"s":14,"t":0.48,"I":-0.042},{"s":14,"t":0.49,"I":-0.051},
{"s":14,"t":0.5,"I":-0.045},{"s":14,"t":0.51,"I":-0.039},{"s":14,"t":0.52,"I":-0.05},{"s":14,"t":0.53,"I":-0.055},{"s":14,"t":0.54,"I":-0.046},{"s":14,"t":0.55,"I":-0.041},{"s":14,"t":0.56,"I":-0.052},{"s":14,"t":0.57,"I":-0.044},{"s":14,"t":0.58,"I":-0.048},{"s":14,"t":0.59,"I":-0.04},{"s":14,"t":0.6,"I":-0.046},
{"s":14,"t":0.6001,"I":-0.008},{"s":14,"t":0.61,"I":0.002},{"s":14,"t":0.62,"I":-0.007},{"s":14,"t":0.63,"I":0.008},{"s":14,"t":0.64,"I":-0.002},{"s":14,"t":0.65,"I":0.007},{"s":14,"t":0.66,"I":-0.01},{"s":14,"t":0.67,"I":0.007},{"s":14,"t":0.68,"I":0.01},{"s":14,"t":0.69,"I":-0.002},{"s":14,"t":0.7,"I":0.006},

{"s":15,"t":0,"I":0.003},{"s":15,"t":0.01,"I":0.007},{"s":15,"t":0.02,"I":-0.01},{"s":15,"t":0.03,"I":-0.004},{"s":15,"t":0.04,"I":0.01},{"s":15,"t":0.044,"I":-0.003},{"s":15,"t":0.05,"I":0.007},{"s":15,"t":0.06,"I":-0.004},{"s":15,"t":0.07,"I":0.005},{"s":15,"t":0.08,"I":-0.01},{"s":15,"t":0.09,"I":0.001},{"s":15,"t":0.0999,"I":0.004},
{"s":15,"t":0.1,"I":-0.055},{"s":15,"t":0.11,"I":-0.062},{"s":15,"t":0.12,"I":-0.07},{"s":15,"t":0.13,"I":-0.064},{"s":15,"t":0.14,"I":-0.073},{"s":15,"t":0.15,"I":-0.06},{"s":15,"t":0.16,"I":-0.068},{"s":15,"t":0.17,"I":-0.075},{"s":15,"t":0.18,"I":-0.063},{"s":15,"t":0.19,"I":-0.071},
{"s":15,"t":0.2,"I":-0.066},{"s":15,"t":0.21,"I":-0.078},{"s":15,"t":0.22,"I":-0.069},{"s":15,"t":0.23,"I":-0.061},{"s":15,"t":0.24,"I":-0.074},{"s":15,"t":0.25,"I":-0.067},{"s":15,"t":0.26,"I":-0.08},{"s":15,"t":0.27,"I":-0.07},{"s":15,"t":0.28,"I":-0.064},{"s":15,"t":0.29,"I":-0.076},
{"s":15,"t":0.3,"I":-0.068},{"s":15,"t":0.31,"I":-0.062},{"s":15,"t":0.32,"I":-0.075},{"s":15,"t":0.33,"I":-0.083},{"s":15,"t":0.34,"I":-0.07},{"s":15,"t":0.35,"I":-0.065},{"s":15,"t":0.36,"I":-0.077},{"s":15,"t":0.37,"I":-0.071},{"s":15,"t":0.38,"I":-0.079},{"s":15,"t":0.39,"I":-0.066},
{"s":15,"t":0.4,"I":-0.074},{"s":15,"t":0.41,"I":-0.068},{"s":15,"t":0.42,"I":-0.081},{"s":15,"t":0.43,"I":-0.072},{"s":15,"t":0.44,"I":-0.065},{"s":15,"t":0.45,"I":-0.078},{"s":15,"t":0.46,"I":-0.07},{"s":15,"t":0.47,"I":-0.088},{"s":15,"t":0.48,"I":-0.076},{"s":15,"t":0.49,"I":-0.069},
{"s":15,"t":0.5,"I":-0.091},{"s":15,"t":0.51,"I":-0.074},{"s":15,"t":0.52,"I":-0.067},{"s":15,"t":0.53,"I":-0.079},{"s":15,"t":0.54,"I":-0.071},{"s":15,"t":0.55,"I":-0.083},{"s":15,"t":0.56,"I":-0.068},{"s":15,"t":0.57,"I":-0.076},{"s":15,"t":0.58,"I":-0.072},{"s":15,"t":0.59,"I":-0.08},{"s":15,"t":0.6,"I":-0.074},
{"s":15,"t":0.6001,"I":0.009},{"s":15,"t":0.61,"I":-0.005},{"s":15,"t":0.62,"I":0.009},{"s":15,"t":0.63,"I":-0.005},{"s":15,"t":0.64,"I":0.006},{"s":15,"t":0.65,"I":-0.008},{"s":15,"t":0.66,"I":0.003},{"s":15,"t":0.67,"I":-0.006},{"s":15,"t":0.68,"I":-0.004},{"s":15,"t":0.69,"I":0.01},{"s":15,"t":0.7,"I":-0.003},

{"s":16,"t":0,"I":-0.009},{"s":16,"t":0.01,"I":0.001},{"s":16,"t":0.02,"I":0.008},{"s":16,"t":0.03,"I":0.005},{"s":16,"t":0.04,"I":-0.009},{"s":16,"t":0.044,"I":-0.028},{"s":16,"t":0.05,"I":-0.005},{"s":16,"t":0.06,"I":0.003},{"s":16,"t":0.07,"I":-0.007},{"s":16,"t":0.08,"I":0.008},{"s":16,"t":0.09,"I":-0.006},{"s":16,"t":0.0999,"I":-0.003},
{"s":16,"t":0.1,"I":-0.095},{"s":16,"t":0.11,"I":-0.102},{"s":16,"t":0.12,"I":-0.094},{"s":16,"t":0.13,"I":-0.108},{"s":16,"t":0.14,"I":-0.099},{"s":16,"t":0.15,"I":-0.105},{"s":16,"t":0.16,"I":-0.096},{"s":16,"t":0.17,"I":-0.11},{"s":16,"t":0.18,"I":-0.101},{"s":16,"t":0.19,"I":-0.093},
{"s":16,"t":0.2,"I":-0.104},{"s":16,"t":0.21,"I":-0.098},{"s":16,"t":0.22,"I":-0.107},{"s":16,"t":0.23,"I":-0.095},{"s":16,"t":0.24,"I":-0.103},{"s":16,"t":0.25,"I":-0.112},{"s":16,"t":0.26,"I":-0.1},{"s":16,"t":0.27,"I":-0.094},{"s":16,"t":0.28,"I":-0.106},{"s":16,"t":0.29,"I":-0.099},
{"s":16,"t":0.3,"I":-0.108},{"s":16,"t":0.31,"I":-0.097},{"s":16,"t":0.32,"I":-0.104},{"s":16,"t":0.33,"I":-0.093},{"s":16,"t":0.34,"I":-0.101},{"s":16,"t":0.35,"I":-0.109},{"s":16,"t":0.36,"I":-0.098},{"s":16,"t":0.37,"I":-0.105},{"s":16,"t":0.38,"I":-0.096},{"s":16,"t":0.39,"I":-0.103},
{"s":16,"t":0.4,"I":-0.111},{"s":16,"t":0.41,"I":-0.099},{"s":16,"t":0.42,"I":-0.094},{"s":16,"t":0.43,"I":-0.106},{"s":16,"t":0.44,"I":-0.1},{"s":16,"t":0.45,"I":-0.108},{"s":16,"t":0.46,"I":-0.097},{"s":16,"t":0.47,"I":-0.104},{"s":16,"t":0.48,"I":-0.095},{"s":16,"t":0.49,"I":-0.102},
{"s":16,"t":0.5,"I":-0.109},{"s":16,"t":0.51,"I":-0.098},{"s":16,"t":0.52,"I":-0.105},{"s":16,"t":0.53,"I":-0.094},{"s":16,"t":0.54,"I":-0.101},{"s":16,"t":0.55,"I":-0.107},{"s":16,"t":0.56,"I":-0.099},{"s":16,"t":0.57,"I":-0.104},{"s":16,"t":0.58,"I":-0.096},{"s":16,"t":0.59,"I":-0.102},{"s":16,"t":0.6,"I":-0.1},
{"s":16,"t":0.6001,"I":-0.04},{"s":16,"t":0.61,"I":-0.032},{"s":16,"t":0.62,"I":-0.025},{"s":16,"t":0.63,"I":-0.018},{"s":16,"t":0.64,"I":-0.012},{"s":16,"t":0.65,"I":-0.006},{"s":16,"t":0.66,"I":0.004},{"s":16,"t":0.67,"I":-0.006},{"s":16,"t":0.68,"I":0.008},{"s":16,"t":0.69,"I":-0.007},{"s":16,"t":0.7,"I":0.004},

{"s":17,"t":0,"I":0.006},{"s":17,"t":0.01,"I":-0.005},{"s":17,"t":0.02,"I":0.002},{"s":17,"t":0.03,"I":-0.007},{"s":17,"t":0.04,"I":0.004},{"s":17,"t":0.044,"I":0.008},{"s":17,"t":0.05,"I":0.002},{"s":17,"t":0.06,"I":-0.009},{"s":17,"t":0.07,"I":0.01},{"s":17,"t":0.08,"I":0.001},{"s":17,"t":0.09,"I":0.005},{"s":17,"t":0.0999,"I":-0.008},
{"s":17,"t":0.1,"I":-0.105},{"s":17,"t":0.11,"I":-0.112},{"s":17,"t":0.12,"I":-0.118},{"s":17,"t":0.13,"I":-0.11},{"s":17,"t":0.14,"I":-0.122},{"s":17,"t":0.15,"I":-0.115},{"s":17,"t":0.16,"I":-0.125},{"s":17,"t":0.17,"I":-0.118},{"s":17,"t":0.18,"I":-0.128},{"s":17,"t":0.19,"I":-0.135},
{"s":17,"t":0.2,"I":-0.15},{"s":17,"t":0.21,"I":-0.172},{"s":17,"t":0.22,"I":-0.135},{"s":17,"t":0.23,"I":-0.12},{"s":17,"t":0.24,"I":-0.128},{"s":17,"t":0.25,"I":-0.118},{"s":17,"t":0.26,"I":-0.126},{"s":17,"t":0.27,"I":-0.115},{"s":17,"t":0.28,"I":-0.124},{"s":17,"t":0.29,"I":-0.119},
{"s":17,"t":0.3,"I":-0.128},{"s":17,"t":0.31,"I":-0.121},{"s":17,"t":0.32,"I":-0.13},{"s":17,"t":0.33,"I":-0.126},{"s":17,"t":0.34,"I":-0.118},{"s":17,"t":0.35,"I":-0.124},{"s":17,"t":0.36,"I":-0.116},{"s":17,"t":0.37,"I":-0.127},{"s":17,"t":0.38,"I":-0.12},{"s":17,"t":0.39,"I":-0.112},
{"s":17,"t":0.4,"I":-0.125},{"s":17,"t":0.41,"I":-0.14},{"s":17,"t":0.42,"I":-0.155},{"s":17,"t":0.43,"I":-0.138},{"s":17,"t":0.44,"I":-0.118},{"s":17,"t":0.45,"I":-0.126},{"s":17,"t":0.46,"I":-0.12},{"s":17,"t":0.47,"I":-0.13},{"s":17,"t":0.48,"I":-0.134},{"s":17,"t":0.49,"I":-0.122},
{"s":17,"t":0.5,"I":-0.115},{"s":17,"t":0.51,"I":-0.128},{"s":17,"t":0.52,"I":-0.135},{"s":17,"t":0.53,"I":-0.127},{"s":17,"t":0.54,"I":-0.132},{"s":17,"t":0.55,"I":-0.14},{"s":17,"t":0.56,"I":-0.15},{"s":17,"t":0.57,"I":-0.172},{"s":17,"t":0.58,"I":-0.135},{"s":17,"t":0.59,"I":-0.15},{"s":17,"t":0.6,"I":-0.145},
{"s":17,"t":0.6001,"I":-0.1},{"s":17,"t":0.61,"I":-0.06},{"s":17,"t":0.62,"I":-0.035},{"s":17,"t":0.63,"I":-0.028},{"s":17,"t":0.64,"I":-0.025},{"s":17,"t":0.65,"I":-0.02},{"s":17,"t":0.66,"I":-0.012},{"s":17,"t":0.67,"I":-0.005},{"s":17,"t":0.68,"I":0.003},{"s":17,"t":0.69,"I":-0.004},{"s":17,"t":0.7,"I":0.005}
]},
"mark":{"type":"line","color":"black","strokeWidth":1.6,"clip":true},
"encoding":{
"x":{"field":"t","type":"quantitative","scale":{"domain":[0.001,0.699],"nice":false,"zero":false},
"axis":{"values":[0.1,0.6],"format":".1f","grid":false,"title":"t [s]","titleFontSize":24,"titleFontWeight":"normal","titleColor":"#262626","titleFont":"DejaVu Sans","titlePadding":10,"labelFontSize":22,"labelColor":"#262626","labelFont":"DejaVu Sans","labelPadding":19,"tickSize":-6,"tickColor":"#666666","domainColor":"#666666","labelFlush":false}},
"y":{"field":"I","type":"quantitative","scale":{"domain":[-0.224,0.314],"nice":false,"zero":false},
"axis":{"values":[-0.2,-0.1,0,0.1,0.2,0.3],"labelExpr":"datum.value === 0 ? '0' : (datum.value < 0 ? '-' + format(-datum.value, '.1f') : format(datum.value, '.1f'))","grid":false,"title":"I [nA]","titleFontSize":24,"titleFontWeight":"normal","titleColor":"#262626","titleFont":"DejaVu Sans","titlePadding":6,"labelFontSize":22,"labelColor":"#262626","labelFont":"DejaVu Sans","labelPadding":22,"tickSize":-6,"tickColor":"#666666","domainColor":"#666666","labelFlush":false}},
"detail":{"field":"s","type":"nominal"}
}},
{"data":{"values":[{"label":"25\u00a0°C\u00a0\u00a0Activation"}]},
"mark":{"type":"text","align":"right","baseline":"alphabetic","fontSize":19,"font":"DejaVu Sans","color":"black"},
"encoding":{"x":{"datum":0.6978},"y":{"datum":0.3106},"text":{"field":"label"}}},
{"data":{"values":[{"label":"BBP Channelpedia ID 29159 rep 3"}]},
"mark":{"type":"text","align":"center","baseline":"middle","angle":270,"fontSize":12.7,"font":"DejaVu Sans","color":"black"},
"encoding":{"x":{"datum":0.728},"y":{"datum":0.0565},"text":{"field":"label"}}}
]
}
